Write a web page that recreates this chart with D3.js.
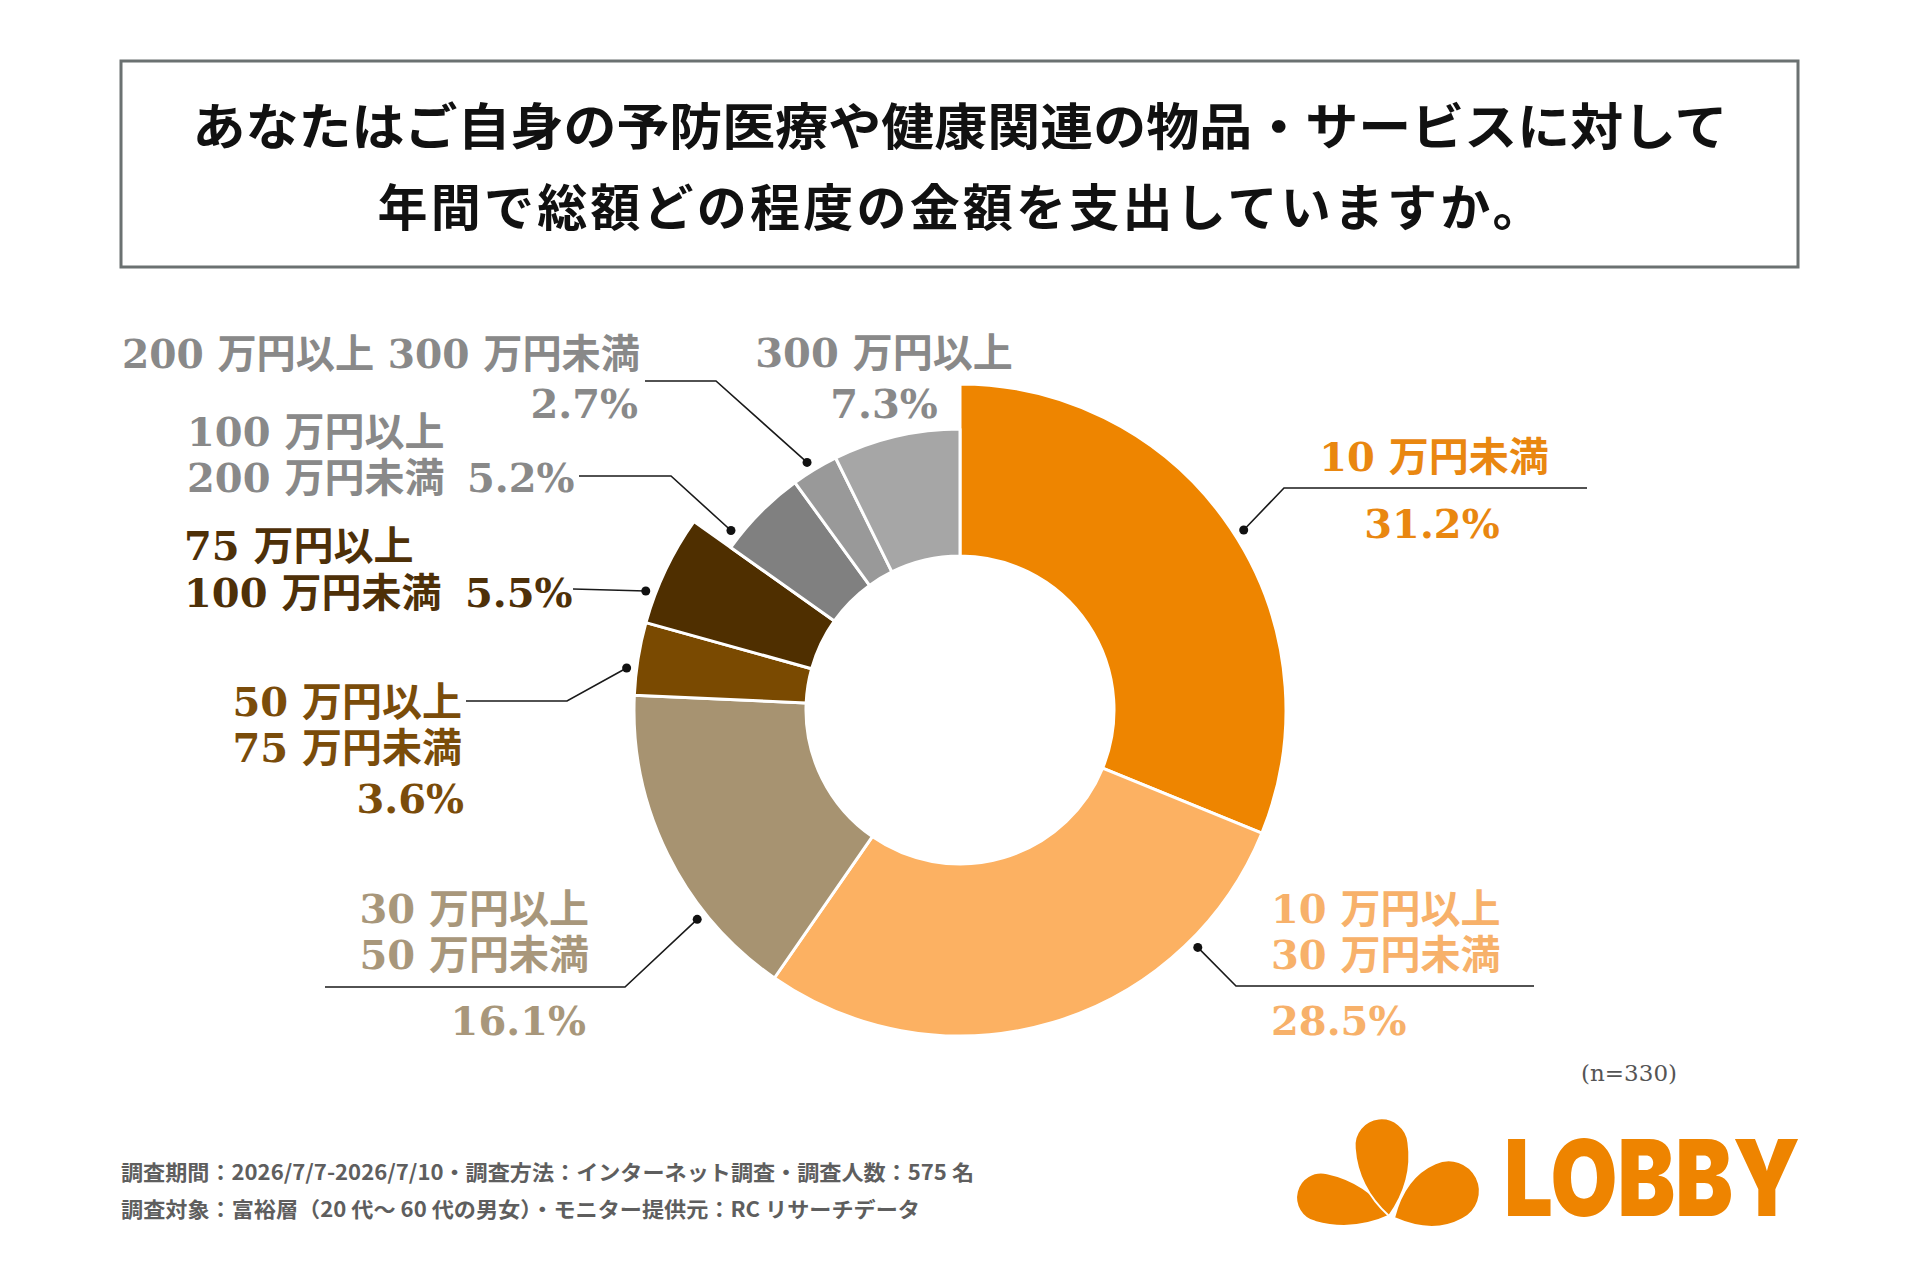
<!DOCTYPE html>
<html>
<head>
<meta charset="utf-8">
<script src="https://cdn.jsdelivr.net/npm/d3@7"></script>
<style>
  body { margin: 0; background: #fff; }
  svg { display: block; }
  .lbl { font-family: "DejaVu Serif", "Noto Sans CJK JP", serif; font-weight: 700; font-size: 40px; }
  .title { font-family: "Noto Sans CJK JP", sans-serif; font-weight: 700; font-size: 50px; fill: #111; }
  .note { font-family: "Noto Sans CJK JP", sans-serif; font-weight: 700; font-size: 21px; fill: #5e5e5e; }
</style>
</head>
<body>
<div id="chart"></div>
<script>
var svgWidth = 1920;
var svgHeight = 1280;

// ---- data ----
var categories = ["10万円未満", "10万円以上30万円未満", "30万円以上50万円未満", "50万円以上75万円未満",
  "75万円以上100万円未満", "100万円以上200万円未満", "200万円以上300万円未満", "300万円以上"];
var labelLines = [
  ["10 万円未満"],
  ["10 万円以上", "30 万円未満"],
  ["30 万円以上", "50 万円未満"],
  ["50 万円以上", "75 万円未満"],
  ["75 万円以上", "100 万円未満"],
  ["100 万円以上", "200 万円未満"],
  ["200 万円以上 300 万円未満"],
  ["300 万円以上"]
];
var shares = [31.2, 28.5, 16.1, 3.6, 5.5, 5.2, 2.7, 7.3];
var titleLines = [
  "あなたはご自身の予防医療や健康関連の物品・サービスに対して",
  "年間で総額どの程度の金額を支出していますか。"
];
var notes = [
  "調査期間：2026/7/7-2026/7/10・調査方法：インターネット調査・調査人数：575 名",
  "調査対象：富裕層（20 代～ 60 代の男女）・モニター提供元：RC リサーチデータ"
];
var sampleNote = "(n=330)";

// ---- styles ----
var sliceColors = ["#ee8500", "#fcb162", "#a79371", "#7a4a01", "#4f2f00", "#808080", "#999999", "#a6a6a6"];
var textColors = ["#e98710", "#f7b16a", "#a8977b", "#7a4c0a", "#4e3008", "#898989", "#898989", "#898989"];
var logoColor = "#ee8400";

// ---- layout ----
var cx = 960, cy = 710;
var innerR = 154;
var outerR = [326, 326, 326, 326, 326, 281, 281, 281];

// label placement per slice (text baselines, leader elbow and end)
var labelLayout = [
  { anchor: "middle", x: 1434, ys: [471], pct: ["middle", 1432, 538], shift: 1.5, elbow: [1284, 488], end: [1587, 488] },
  { anchor: "start", x: 1271, ys: [923, 969], pct: ["start", 1271, 1035], shift: -28.5, elbow: [1236, 986], end: [1534, 986] },
  { anchor: "end", x: 589, ys: [923, 969], pct: ["end", 586, 1035], shift: -12.2, elbow: [625, 987], end: [325, 987] },
  { anchor: "end", x: 462, ys: [716, 762], pct: ["end", 464, 813], shift: -1.9, elbow: [567, 701], end: [466, 701] },
  { anchor: "start", x: 184, ys: [560, 607], pct: ["start", 465, 607], shift: -4.7, elbow: null, end: [573, 589] },
  { anchor: "start", x: 187, ys: [446, 492], pct: ["start", 467, 492], shift: -6.6, elbow: [671, 476], end: [579, 476] },
  { anchor: "end", x: 640, ys: [368], pct: ["end", 638, 418], shift: -0.6, elbow: [716, 381], end: [645, 381], fit: 518 },
  { anchor: "middle", x: 884, ys: [367], pct: ["middle", 884, 418], shift: null }
];

var svg = d3.select("#chart")
  .append("svg")
  .attr("width", svgWidth)
  .attr("height", svgHeight);

svg.append("rect")
  .attr("width", svgWidth)
  .attr("height", svgHeight)
  .attr("fill", "#fff");

// title box
svg.append("rect")
  .attr("x", 121)
  .attr("y", 61)
  .attr("width", 1677)
  .attr("height", 206)
  .attr("fill", "none")
  .attr("stroke", "#6b7171")
  .attr("stroke-width", 3);

svg.selectAll(".title")
  .data(titleLines)
  .enter()
  .append("text")
  .attr("class", "title")
  .attr("x", 960)
  .attr("y", (d, i) => i === 0 ? 145 : 226)
  .attr("text-anchor", "middle")
  .attr("textLength", (d, i) => i === 0 ? 1535 : 1165)
  .attr("lengthAdjust", (d, i) => i === 0 ? "spacingAndGlyphs" : "spacing")
  .text(d => d);

// donut
var pie = d3.pie().sort(null).value(d => d);
var arcs = pie(shares);

var arc = d3.arc()
  .innerRadius(innerR)
  .outerRadius(d => outerR[d.index]);

var chartGroup = svg.append("g")
  .attr("transform", `translate(${cx}, ${cy})`);

chartGroup.selectAll("path")
  .data(arcs)
  .enter()
  .append("path")
  .attr("d", arc)
  .attr("fill", d => sliceColors[d.index])
  .attr("stroke", "#fff")
  .attr("stroke-width", 3)
  .attr("stroke-linejoin", "round");

// leader lines with dots
function dotPoint(d) {
  var lay = labelLayout[d.index];
  var a = (d.startAngle + d.endAngle) / 2 + lay.shift * Math.PI / 180;
  var r = outerR[d.index] + 10;
  return [cx + r * Math.sin(a), cy - r * Math.cos(a)];
}

var leaders = arcs.filter(d => labelLayout[d.index].shift !== null);

svg.selectAll(".leader")
  .data(leaders)
  .enter()
  .append("path")
  .attr("class", "leader")
  .attr("fill", "none")
  .attr("stroke", "#1a1a1a")
  .attr("stroke-width", 1.6)
  .attr("d", d => {
    var lay = labelLayout[d.index];
    var pts = [dotPoint(d)];
    if (lay.elbow) pts.push(lay.elbow);
    pts.push(lay.end);
    return d3.line()(pts);
  });

svg.selectAll(".dot")
  .data(leaders)
  .enter()
  .append("circle")
  .attr("class", "dot")
  .attr("cx", d => dotPoint(d)[0])
  .attr("cy", d => dotPoint(d)[1])
  .attr("r", 4.5)
  .attr("fill", "#111");

// labels
var labelGroups = svg.selectAll(".labelGroup")
  .data(arcs)
  .enter()
  .append("g")
  .attr("class", "labelGroup");

labelGroups.each(function(d) {
  var g = d3.select(this);
  var lay = labelLayout[d.index];
  labelLines[d.index].forEach(function(line, j) {
    var t = g.append("text")
      .attr("class", "lbl")
      .attr("x", lay.x)
      .attr("y", lay.ys[j])
      .attr("text-anchor", lay.anchor)
      .attr("fill", textColors[d.index])
      .text(line);
    if (lay.fit) t.attr("textLength", lay.fit).attr("lengthAdjust", "spacingAndGlyphs");
  });
  g.append("text")
    .attr("class", "lbl")
    .attr("x", lay.pct[1])
    .attr("y", lay.pct[2])
    .attr("text-anchor", lay.pct[0])
    .attr("fill", textColors[d.index])
    .text(shares[d.index].toFixed(1) + "%");
});

// sample size
svg.append("text")
  .attr("x", 1677)
  .attr("y", 1081)
  .attr("text-anchor", "end")
  .attr("font-family", "DejaVu Serif, serif")
  .attr("font-size", 23)
  .attr("fill", "#555")
  .text(sampleNote);

// footnotes
svg.selectAll(".note")
  .data(notes)
  .enter()
  .append("text")
  .attr("class", "note")
  .attr("x", 121)
  .attr("y", (d, i) => i === 0 ? 1180 : 1217)
  .attr("textLength", (d, i) => i === 0 ? 853 : 799)
  .attr("lengthAdjust", "spacingAndGlyphs")
  .text(d => d);

// logo: three petals + word mark
function petal(tip, angleDeg, L, W) {
  var c = L - W;
  var p = `M0,0 Q${c * 0.45},${-W * 1.05} ${c},${-W} A${W},${W} 0 0 1 ${c},${W} Q${c * 0.45},${W * 1.05} 0,0 Z`;
  return { d: p, t: `translate(${tip[0]},${tip[1]}) rotate(${angleDeg})` };
}
var petals = [
  petal([1391, 1215], 194, 97, 25),
  petal([1389, 1216], -96, 98, 27),
  petal([1394, 1218], -26, 92, 31)
];
svg.selectAll(".petal")
  .data(petals)
  .enter()
  .append("path")
  .attr("class", "petal")
  .attr("d", d => d.d)
  .attr("transform", d => d.t)
  .attr("fill", logoColor)
  .attr("stroke", "#fff")
  .attr("stroke-width", 2);

svg.append("text")
  .attr("x", 1504)
  .attr("y", 1216)
  .attr("font-family", "Inter, Roboto, sans-serif")
  .attr("font-weight", 900)
  .attr("font-size", 106)
  .attr("textLength", 296)
  .attr("lengthAdjust", "spacingAndGlyphs")
  .attr("fill", logoColor)
  .text("LOBBY");
</script>
</body>
</html>
